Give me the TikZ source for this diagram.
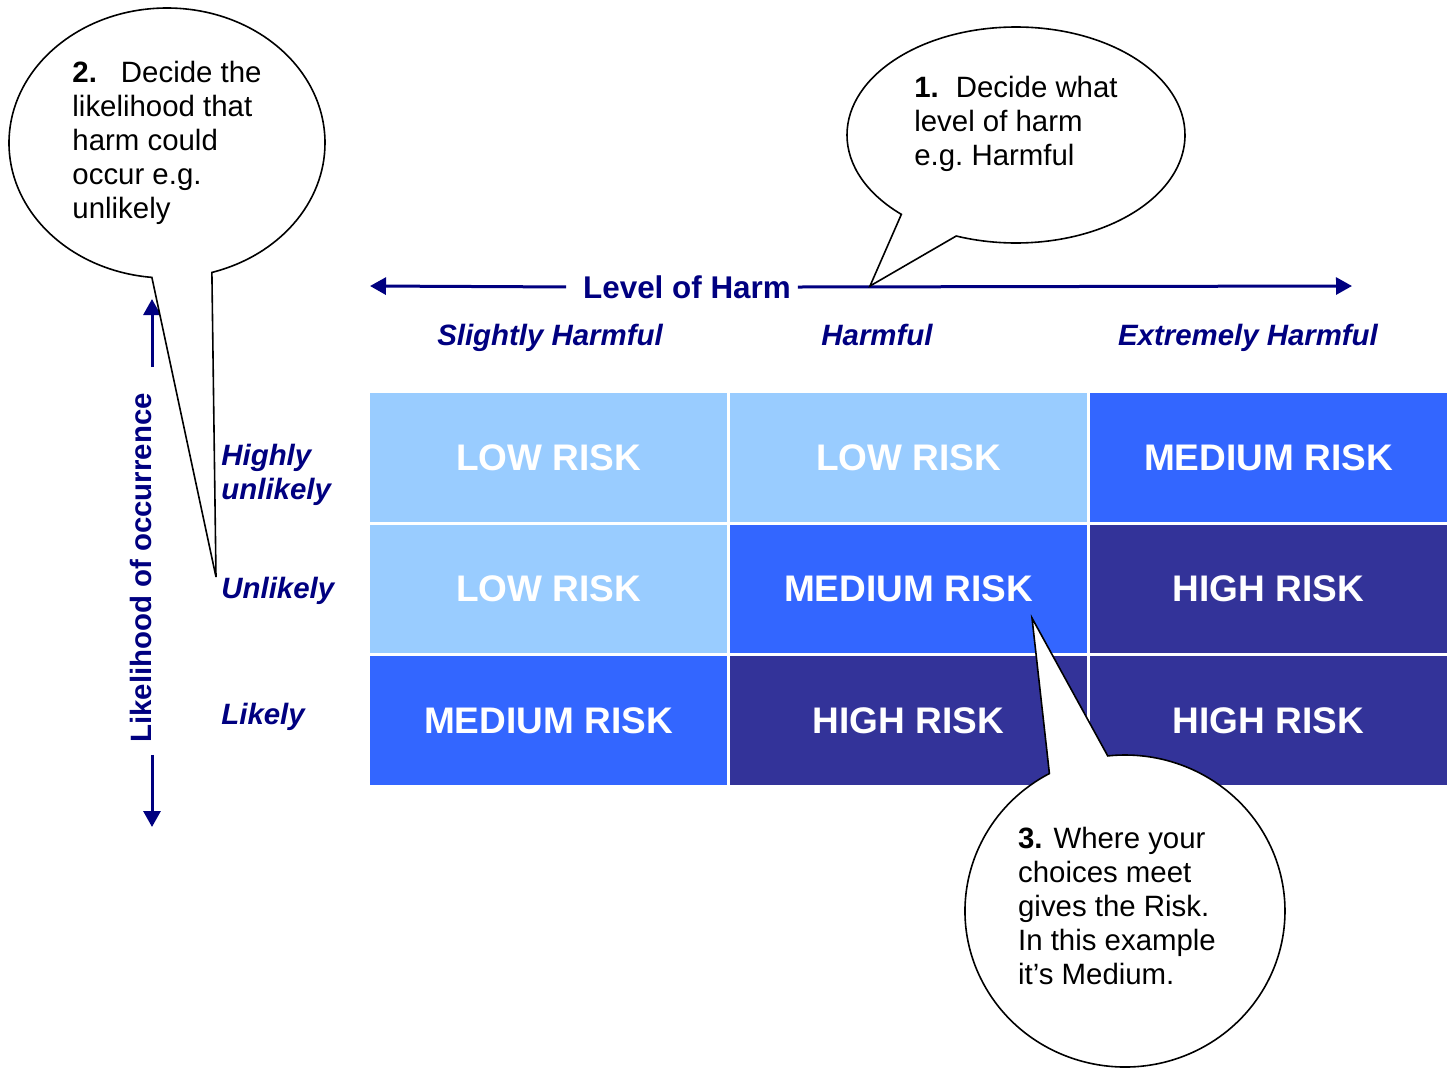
\documentclass[tikz,border=0pt]{standalone}
\usepackage{fontspec}
\setmainfont{Liberation Sans}
\usetikzlibrary{arrows.meta,shapes.callouts}

\definecolor{harmnavy}{HTML}{000080}
\definecolor{lowblue}{HTML}{99CCFF}
\definecolor{medblue}{HTML}{3366FF}
\definecolor{highblue}{HTML}{333399}

\tikzset{
  cell/.style={minimum width=178.5pt, minimum height=64.25pt, inner sep=0pt, text=white,
    font=\fontsize{18.5}{22}\selectfont\bfseries},
  lowcell/.style={cell, fill=lowblue},
  medcell/.style={cell, fill=medblue},
  highcell/.style={cell, fill=highblue},
  axislabel/.style={text=harmnavy, font=\fontsize{15.7}{18}\selectfont\bfseries},
  scalelabel/.style={text=harmnavy, inner sep=0pt, align=left, text height=0.75em, text depth=0.22em,
    font=\fontsize{14.7}{17}\selectfont\bfseries\itshape},
  axisline/.style={draw=harmnavy, line width=1.5pt, -{Triangle[length=8pt,width=8.5pt]}},
  bubble/.style={ellipse callout, draw=black, fill=white, line width=0.8pt, inner sep=0pt,
    align=left, callout pointer arc=22, font=\fontsize{14.7}{17}\selectfont},
}

\begin{document}
\begin{tikzpicture}[x=0.5pt, y=-0.5pt]

        \useasboundingbox (0,0) rectangle (1453,1067) ;

        \node[lowcell] (c11) at (548.5,457.5) {LOW RISK} ;
        \node[lowcell] (c12) at (908.5,457.5) {LOW RISK} ;
        \node[medcell] (c13) at (1268.5,457.5) {MEDIUM RISK} ;
        \node[lowcell] (c21) at (548.5,589) {LOW RISK} ;
        \node[medcell] (c22) at (908.5,589) {MEDIUM RISK} ;
        \node[highcell] (c23) at (1268.5,589) {HIGH RISK} ;
        \node[medcell] (c31) at (548.5,720.5) {MEDIUM RISK} ;
        \node[highcell] (c32) at (908.5,720.5) {HIGH RISK} ;
        \node[highcell] (c33) at (1268.5,720.5) {HIGH RISK} ;

        \node[scalelabel] (slight) at (550,340) {Slightly Harmful} ;
        \node[scalelabel] (harmful) at (877,340) {Harmful} ;
        \node[scalelabel] (extreme) at (1248,340) {Extremely Harmful} ;

        \node[scalelabel, text height={}, text depth={}, anchor=west] (hunlikely) at (221,475)
          {Highly\\unlikely} ;
        \node[scalelabel, anchor=west] (unlikely) at (221,593) {Unlikely} ;
        \node[scalelabel, anchor=west] (likely) at (221,719) {Likely} ;

        \node[axislabel] (harm) at (687,287) {Level of Harm} ;
        \coordinate (harmleft) at (370,286) ;
        \coordinate (harmright) at (1352,286) ;
        \draw[axisline, shorten <=5pt] (harm.west) -- (harmleft) ;
        \draw[axisline] (harm.east) -- (harmright) ;

        \node[axislabel, font=\fontsize{14.7}{17}\selectfont\bfseries, rotate=90] (occur) at (141,568)
          {Likelihood of occurrence} ;
        \coordinate (occtop) at (152,299) ;
        \coordinate (occbottom) at (152,827) ;
        \draw[axisline, shorten <=9.5pt] (occur.east -| occtop) -- (occtop) ;
        \draw[axisline, shorten <=2.5pt] (occur.west -| occbottom) -- (occbottom) ;

        \coordinate (harmpick) at (870,286) ;
        \coordinate (likelypick) at (216,577) ;
        \coordinate (riskpick) at (1032,618) ;

        \node[bubble, minimum width=169pt, minimum height=108pt,
          callout absolute pointer={(harmpick)}] (harmcallout) at (1016,135)
          {\textbf{1.}\hspace{8.5pt}Decide what\\level of harm\\e.g.\ Harmful\\[-8pt] \strut} ;
        \node[bubble, minimum width=158pt, minimum height=135pt,
          callout absolute pointer={(likelypick)}] (likelycallout) at (167,143)
          {\textbf{2.}\hspace{12pt}Decide the\\likelihood that\\harm could\\occur e.g.\\unlikely} ;
        \node[bubble, minimum width=160pt, minimum height=156pt,
          callout absolute pointer={(riskpick)}] (riskcallout) at (1125,911)
          {\textbf{3.} Where your\\choices meet\\gives the Risk.\\In this example\rule{8pt}{0pt}\\it’s Medium.\\[-17pt] \strut} ;

\end{tikzpicture}
\end{document}
